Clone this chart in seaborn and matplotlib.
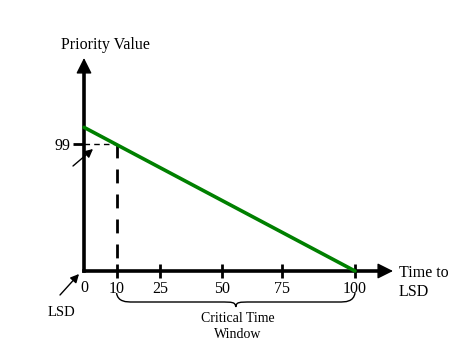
import matplotlib
matplotlib.use("Agg")
import matplotlib.pyplot as plt
import seaborn as sns
import pandas as pd
from matplotlib.path import Path
from matplotlib.patches import PathPatch

# ---- data ----
time_to_lsd = [0, 100]
priority_value = [112, 0]
x_tick_pos = [12, 28, 51, 73, 100]
x_tick_labels = ["10", "25", "50", "75", "100"]
origin_label = "0"
y_tick_pos = [99]
y_tick_labels = ["99"]
critical_start = 12   # position of the "10" tick
marked_value = 99

sns.set_theme(style="white")
plt.rcParams["font.family"] = ["Liberation Serif", "DejaVu Serif"]
plt.rcParams["text.color"] = "black"
FS = 11.5

W, H = 477, 357
fig = plt.figure(figsize=(W / 100, H / 100), dpi=100)
ax = fig.add_axes([0, 0, 1, 1])
ax.set_facecolor("white")

# pixel mapping: x=0 -> px 84, x=100 -> px 355 ; y=0 -> px 271 (from top), y=99 -> px 144
sx = (355 - 84) / 100.0
sy = (271 - 144) / 99.0
ax.set_xlim(-84 / sx, (W - 84) / sx)
ax.set_ylim(-(H - 271) / sy, 271 / sy)

df = pd.DataFrame({"t": time_to_lsd, "p": priority_value})
sns.lineplot(data=df, x="t", y="p", ax=ax, color="#008000", lw=2.6, zorder=4)

# axes as spines with arrows
for s in ["top", "right"]:
    ax.spines[s].set_visible(False)
for s in ["left", "bottom"]:
    ax.spines[s].set_position(("data", 0))
    ax.spines[s].set_linewidth(2.6)
    ax.spines[s].set_color("black")
ax.spines["left"].set_bounds(0, 160)
ax.spines["bottom"].set_bounds(0, 110)
head = "-|>,head_length=0.8,head_width=0.4"
ax.annotate("", xy=(0, (271 - 58) / sy), xytext=(0, 150),
            arrowprops=dict(arrowstyle=head, lw=1, color="black",
                            shrinkA=0, shrinkB=0, mutation_scale=12))
ax.annotate("", xy=((393 - 84) / sx, 0), xytext=(100, 0),
            arrowprops=dict(arrowstyle=head, lw=1, color="black",
                            shrinkA=0, shrinkB=0, mutation_scale=12))

ax.set_xticks(x_tick_pos)
ax.set_xticklabels(x_tick_labels, fontsize=FS)
ax.set_yticks(y_tick_pos)
ax.set_yticklabels(y_tick_labels, fontsize=FS)
ax.tick_params(axis="x", bottom=True, direction="inout", length=10, width=2, color="black",
               pad=2, labelcolor="black")
ax.tick_params(axis="y", left=True, direction="out", length=8, width=2, color="black",
               pad=2, labelcolor="black")
ax.set_xlabel("")
ax.set_ylabel("")
ax.text(0, -7, origin_label, fontsize=FS, ha="center", va="top", color="black")

# dashed guide lines
ax.plot([0, critical_start], [marked_value, marked_value], color="black", lw=1, ls=(0, (4, 3)), zorder=3)
ax.plot([critical_start, critical_start], [marked_value, 0], color="black", lw=2, ls=(0, (5, 4)), zorder=3)

def fp(x, y):
    return (x, H - y)

# labels
fig.text(105 / W, 1 - 45 / H, "Priority Value", fontsize=FS, ha="center", va="center")
fig.text(399 / W, 1 - 273 / H, "Time to", fontsize=FS, ha="left", va="center")
fig.text(399 / W, 1 - 292 / H, "LSD", fontsize=FS, ha="left", va="center")
fig.text(61 / W, 1 - 313 / H, "LSD", fontsize=FS - 1, ha="center", va="center")
fig.text(238 / W, 1 - 318 / H, "Critical Time", fontsize=10, ha="center", va="center")
fig.text(238 / W, 1 - 335 / H, "Window", fontsize=10, ha="center", va="center")

arrow_kw = dict(arrowstyle="-|>,head_length=0.5,head_width=0.25", lw=1, color="black",
                shrinkA=0, shrinkB=0, mutation_scale=10)
ax.annotate("", xy=fp(79, 274), xytext=fp(60, 295), xycoords="figure pixels",
            textcoords="figure pixels", arrowprops=arrow_kw)
ax.annotate("", xy=fp(93, 149), xytext=fp(73, 166), xycoords="figure pixels",
            textcoords="figure pixels", arrowprops=arrow_kw)

# brace under the critical window
x0, x1 = critical_start, 100
xm = (x0 + x1) / 2
yt = -(293 - 271) / sy
ym = -(302 - 271) / sy
yb = -(307 - 271) / sy
d = 6
verts = [(x0, yt), (x0 + 0.5, ym), (x0 + d * 0.6, ym), (x0 + d, ym),
         (xm - d, ym),
         (xm - 1.0, ym), (xm - 0.2, ym), (xm, yb),
         (xm + 0.2, ym), (xm + 1.0, ym), (xm + d, ym),
         (x1 - d, ym),
         (x1 - d * 0.6, ym), (x1 - 0.5, ym), (x1, yt)]
codes = [Path.MOVETO, Path.CURVE4, Path.CURVE4, Path.CURVE4,
         Path.LINETO,
         Path.CURVE4, Path.CURVE4, Path.CURVE4,
         Path.CURVE4, Path.CURVE4, Path.CURVE4,
         Path.LINETO,
         Path.CURVE4, Path.CURVE4, Path.CURVE4]
ax.add_patch(PathPatch(Path(verts, codes), fill=False, lw=1, color="black", clip_on=False))

fig.savefig("out.png", dpi=100, facecolor="white")
